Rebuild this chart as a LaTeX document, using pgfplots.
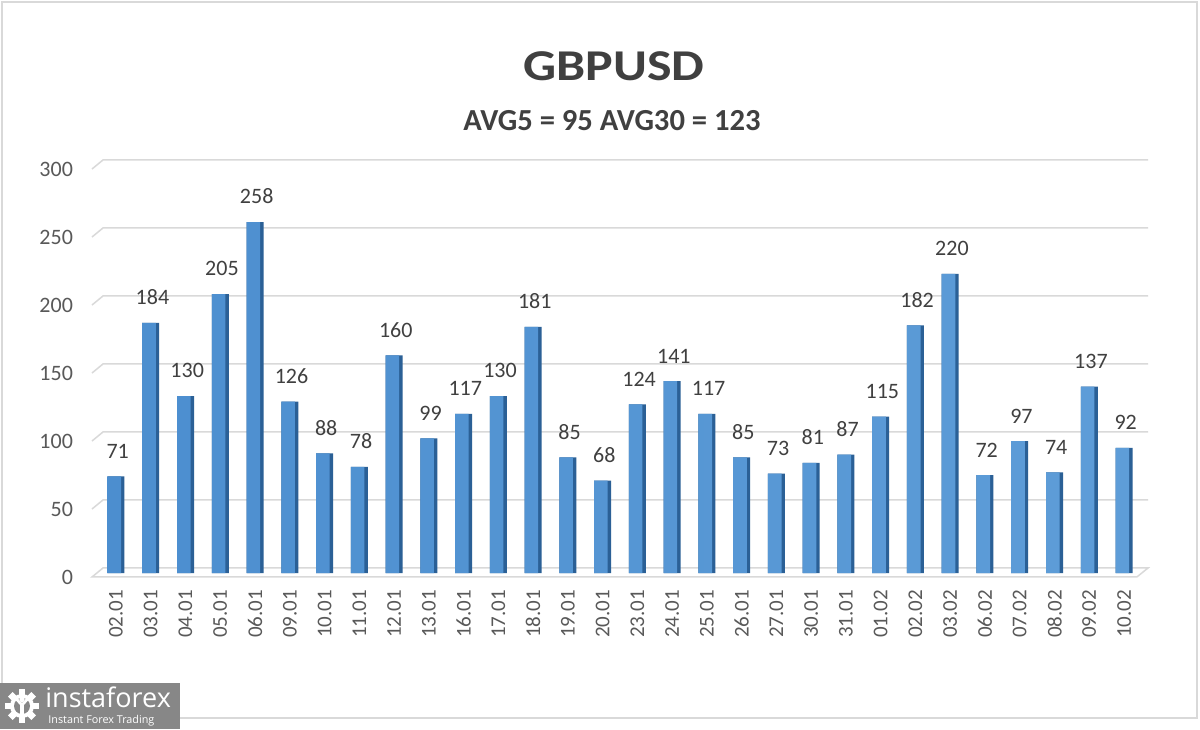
\documentclass[border=0pt]{standalone}
\usepackage{pgfplots}
\pgfplotsset{compat=1.18}
\usepackage{pgfplotstable}
\usepackage{fontspec}
\setmainfont{Carlito}
\newfontfamily\titlefont[FakeStretch=1.18]{Carlito}
\newfontfamily\logofont{Open Sans}
\definecolor{txt}{HTML}{404040}
\definecolor{tickc}{HTML}{595959}
\definecolor{gridc}{HTML}{D9D9D9}
\definecolor{bardark}{HTML}{2B6096}
\definecolor{barleft}{HTML}{4C8ECF}
\definecolor{barmid}{HTML}{74AFE3}
\definecolor{barright}{HTML}{5E9DD8}
\definecolor{logogray}{HTML}{878787}

\pgfplotstableread{
x v
0 71
1 184
2 130
3 205
4 258
5 126
6 88
7 78
8 160
9 99
10 117
11 130
12 181
13 85
14 68
15 124
16 141
17 117
18 85
19 73
20 81
21 87
22 115
23 182
24 220
25 72
26 97
27 74
28 137
29 92
}\data

\begin{document}
\begin{tikzpicture}
\path[use as bounding box] (0,0) rectangle (600pt,364.5pt);
\fill[white] (0,0) rectangle (600pt,364.5pt);
\draw[gridc, line width=0.75pt] (1pt,5.5pt) rectangle (598.5pt,363.5pt);

\node[font=\titlefont\bfseries\fontsize{22}{26}\selectfont, text=txt] at (307pt,331.25pt) {GBPUSD};
\node[font=\bfseries\fontsize{15.3}{18}\selectfont, text=txt] at (306pt,304pt) {AVG5 = 95 AVG30 = 123};

\begin{axis}[
  at={(46pt,78pt)}, anchor=south west,
  width=528pt, height=204pt, scale only axis,
  xmin=-0.69, xmax=29.69, ymin=0, ymax=300,
  clip=false,
  axis line style={draw=none},
  tick style={draw=none},
  /pgf/number format/assume math mode=true,
  xtick={0,...,29},
  xticklabels={02.01,03.01,04.01,05.01,06.01,09.01,10.01,11.01,12.01,13.01,16.01,17.01,18.01,19.01,20.01,23.01,24.01,25.01,26.01,27.01,30.01,31.01,01.02,02.02,03.02,06.02,07.02,08.02,09.02,10.02},
  xticklabel style={yshift=-5pt, rotate=90, anchor=east, font=\fontsize{10.5}{12}\selectfont, text=tickc},
  ytick={0,50,...,300},
  yticklabel style={font=\fontsize{11}{13}\selectfont, text=tickc, xshift=-6pt, yshift=-2pt},
]
\pgfplotsinvokeforeach{50,100,...,300}{
  \draw[gridc, line width=0.75pt] (axis cs:-0.69,#1-2.94) -- (axis cs:-0.374,#1+3.68) -- (axis cs:29.69,#1+3.68);
}
\draw[gridc, line width=0.75pt] (axis cs:29.37,-2.94) -- (axis cs:-0.69,-2.94) -- (axis cs:-0.374,3.68) -- (axis cs:29.69,3.68) -- (axis cs:29.37,-2.94);

\addplot[ybar, bar width=8.5pt, bar shift=0pt, fill=bardark, draw=none] table[x=x,y=v]{\data};
\addplot[ybar, bar width=6.8pt, bar shift=-0.85pt, draw=none, left color=barleft, middle color=barmid, right color=barright,
  nodes near coords,
  nodes near coords style={font=\fontsize{11}{13}\selectfont, text=txt, yshift=5.5pt, xshift=0.85pt}
] table[x=x,y=v]{\data};
\end{axis}

% logo
\fill[logogray] (0,0) rectangle (90pt,23pt);
\begin{scope}[shift={(11pt,11.5pt)}]
  \foreach \a in {0,45,...,315}{
    \fill[white, rotate=\a] (-1.6pt,5pt) rectangle (1.6pt,8.3pt);
  }
  \fill[white] (0,0) circle (6pt);
  \fill[logogray] (0,0) circle (4pt);
  \draw[white, line width=1.6pt] (0,-4.5pt) -- (0,0.5pt);
  \draw[white, line width=1.4pt] (0,0.5pt) -- (-2.8pt,3.5pt);
  \draw[white, line width=1.4pt] (0,0.5pt) -- (2.8pt,3.5pt);
  \fill[white] (0,3.2pt) circle (1.3pt);
\end{scope}
\node[anchor=base west, inner sep=0pt, font=\logofont\fontsize{13.5}{15}\selectfont, text=white] at (22.5pt,11pt) {instaforex};
\node[anchor=base west, inner sep=0pt, font=\logofont\fontsize{5.4}{6}\selectfont, text=white] at (24pt,3pt) {Instant Forex Trading};
\end{tikzpicture}
\end{document}
